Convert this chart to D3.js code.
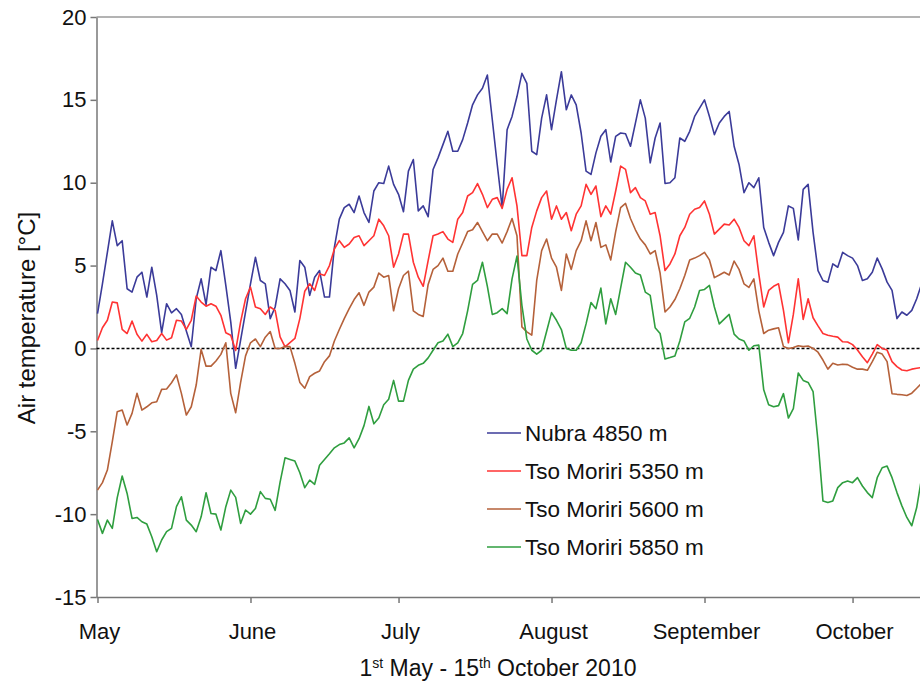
<!DOCTYPE html>
<html>
<head>
<meta charset="utf-8">
<script src="https://cdn.jsdelivr.net/npm/d3@7"></script>
<style>
  html, body { margin: 0; padding: 0; background: #fff; }
  svg { display: block; }
  text { font-family: "Liberation Sans", Arial, sans-serif; fill: #111; }
</style>
</head>
<body>
<svg id="chart" width="920" height="686"></svg>
<script>
// ---- data (daily air temperature, 1 May – 15 Oct 2010) ----
const startDate = "2010-05-01";
const endDate = "2010-10-15";

const nubra4850 = [
  2.1, 3.9, 5.8, 7.7, 6.2, 6.5, 3.6, 3.4, 4.3, 4.6,
  3.1, 4.9, 3.2, 0.95, 2.7, 2.15, 2.4, 2.05, 1.05, 0.1,
  3.0, 4.2, 2.65, 4.9, 4.7, 5.9, 3.8, 1.6, -1.2, 0.5,
  2.2, 3.9, 5.5, 4.1, 3.9, 1.8, 2.5, 4.2, 3.9, 3.5,
  2.2, 5.3, 4.9, 3.2, 4.3, 4.7, 3.1, 3.1, 6.1, 7.8,
  8.5, 8.7, 8.2, 9.2, 8.2, 7.6, 9.5, 10.0, 9.95, 11.0,
  9.9, 9.3, 8.25, 10.7, 11.4, 8.3, 8.6, 7.95, 10.8, 11.5,
  12.3, 13.1, 11.9, 11.9, 12.6, 13.6, 14.7, 15.3, 15.7, 16.5,
  13.8, 11.1, 8.5, 13.2, 14.0, 15.2, 16.6, 16.0, 11.9, 11.7,
  13.9, 15.3, 13.2, 15.0, 16.7, 14.4, 15.3, 14.7, 13.0, 10.7,
  10.5, 11.8, 12.8, 13.2, 11.25, 12.8, 13.0, 12.95, 12.2, 13.6,
  15.0, 13.9, 11.2, 12.7, 13.6, 9.95, 10.0, 10.3, 12.7, 12.5,
  13.1, 14.0, 14.5, 15.0, 14.0, 12.9, 13.6, 14.0, 14.3, 12.2,
  11.1, 9.4, 10.0, 9.7, 10.3, 7.3, 6.4, 5.6, 6.4, 7.0,
  8.6, 8.45, 6.55, 9.6, 9.9, 7.0, 4.7, 4.1, 4.0, 5.1,
  4.9, 5.8, 5.6, 5.45, 5.0, 4.1, 4.2, 4.6, 5.45, 4.8,
  4.0, 3.5, 1.8, 2.2, 2.0, 2.3, 3.0, 3.9
];

const tsoMoriri5350 = [
  0.48, 1.25, 1.7, 2.8, 2.75, 1.15, 0.9, 1.65, 0.85, 0.44,
  0.85, 0.4, 0.48, 0.9, 0.5, 0.64, 1.7, 1.65, 1.15, 1.7,
  3.16, 2.8, 2.55, 2.7, 2.55, 2.0, 0.95, 0.8, -0.12, 1.6,
  3.0, 3.7, 2.5, 2.4, 2.05, 2.5, 2.3, 0.7, 0.1, 0.35,
  0.6, 1.8, 3.45, 3.9, 3.5, 4.5, 4.4, 5.0, 6.0, 6.5,
  6.1, 6.3, 6.7, 6.8, 6.2, 6.5, 6.8, 7.8, 7.4, 6.8,
  4.9, 5.7, 6.9, 6.9, 5.2, 4.3, 3.75, 5.3, 6.8, 6.9,
  7.05, 6.6, 6.4, 7.8, 8.2, 9.2, 9.4, 9.95, 9.3, 8.5,
  9.0, 9.1, 8.45, 9.6, 10.3, 8.6, 5.6, 5.6, 7.3, 8.3,
  9.1, 9.5, 7.8, 8.6, 7.8, 8.2, 7.1, 8.1, 8.6, 9.9,
  9.3, 9.8, 7.95, 8.6, 8.1, 9.5, 11.0, 10.8, 9.4, 9.7,
  9.1, 8.9, 8.1, 8.2, 6.8, 4.7, 5.1, 5.7, 6.8, 7.3,
  8.1, 8.4, 8.5, 8.9, 8.1, 6.9, 7.2, 7.5, 7.45, 7.8,
  7.3, 6.5, 6.2, 6.8, 4.5, 2.5, 3.5, 3.75, 3.9, 2.3,
  0.34, 2.05, 4.2, 1.75, 3.0, 1.85, 1.36, 0.9, 0.8, 0.73,
  0.68, 0.4, 0.39, 0.23, -0.1, -0.5, -0.86, -0.34, 0.23, 0.0,
  -0.1, -0.8, -1.1, -1.3, -1.35, -1.25, -1.2, -1.15
];

const tsoMoriri5600 = [
  -8.55, -8.1, -7.34, -5.63, -3.82, -3.72, -4.62, -3.92, -2.71, -3.72,
  -3.52, -3.28, -3.22, -2.47, -2.45, -2.07, -1.6, -2.71, -4.02, -3.52,
  -2.21, -0.06, -1.07, -1.07, -0.76, -0.36, 0.34, -2.71, -3.88, -2.05,
  -0.45, 0.34, 0.57, 0.11, 0.68, 1.02, 0.0, 0.0, 0.11, 0.11,
  -0.9, -2.05, -2.4, -1.7, -1.5, -1.36, -0.8, -0.45, 0.45, 1.14,
  1.8, 2.4, 2.95, 3.36, 2.6, 3.4, 3.7, 4.55, 4.3, 4.4,
  2.27, 3.6, 4.4, 4.66, 2.27, 2.05, 1.93, 3.86, 4.77, 5.0,
  5.45, 4.66, 4.66, 5.7, 6.36, 7.05, 7.16, 7.6, 7.05, 6.5,
  6.9, 6.9, 6.36, 7.05, 7.84, 6.8, 1.3, 1.0, 0.8, 4.1,
  5.9, 6.6, 5.45, 4.9, 3.5, 5.7, 4.77, 5.9, 6.5, 7.7,
  6.5, 7.6, 6.1, 6.25, 5.34, 7.05, 8.5, 8.75, 7.84, 7.16,
  6.6, 6.25, 5.7, 5.9, 4.55, 2.2, 2.5, 2.95, 3.6, 4.4,
  5.34, 5.45, 5.6, 5.8, 5.34, 4.27, 4.43, 4.6, 4.43, 5.27,
  4.77, 3.9, 3.68, 4.2, 2.27, 0.9, 1.1, 1.18, 1.25, 0.11,
  0.0, 0.05, 0.16, 0.11, 0.15, 0.0, -0.23, -0.7, -1.25, -0.9,
  -1.0, -0.95, -0.98, -1.14, -1.25, -1.25, -1.32, -0.8, -0.23, -0.34,
  -0.8, -2.73, -2.77, -2.8, -2.84, -2.7, -2.4, -2.1
];

const tsoMoriri5850 = [
  -10.32, -11.16, -10.36, -10.86, -9.0, -7.7, -8.75, -10.26, -10.2, -10.46,
  -10.6, -11.36, -12.27, -11.56, -11.06, -10.86, -9.55, -8.95, -10.36, -10.66,
  -11.06, -10.16, -8.71, -9.96, -10.0, -10.96, -9.55, -8.55, -8.99, -10.56,
  -9.75, -10.0, -9.66, -8.64, -9.05, -9.1, -9.77, -8.07, -6.6, -6.7,
  -6.8, -7.5, -8.4, -7.95, -8.2, -7.05, -6.7, -6.36, -6.0, -5.8,
  -5.7, -5.4, -6.0, -5.45, -4.66, -3.5, -4.55, -4.2, -3.4, -3.07,
  -1.93, -3.18, -3.18, -1.93, -1.25, -1.02, -0.9, -0.57, -0.11, 0.34,
  0.45, 0.86, 0.11, 0.34, 0.9, 2.27, 3.86, 4.1, 5.2, 3.75,
  2.05, 2.16, 2.4, 2.1, 4.2, 5.57, 2.6, 0.57, -0.11, -0.34,
  -0.11, 1.02, 2.16, 1.7, 1.14, 0.0, -0.11, -0.11, 0.34, 1.48,
  2.77, 2.4, 3.64, 1.48, 3.0, 2.05, 3.64, 5.2, 4.9, 4.55,
  4.43, 3.4, 3.2, 1.25, 0.9, -0.64, -0.55, -0.45, 0.45, 1.6,
  1.82, 2.5, 3.5, 3.56, 3.8, 2.5, 1.48, 1.77, 2.05, 0.86,
  0.57, 0.45, -0.11, 0.16, 0.2, -2.5, -3.4, -3.52, -3.45, -2.73,
  -4.2, -3.64, -1.48, -1.93, -2.05, -2.6, -5.6, -9.2, -9.3, -9.2,
  -8.4, -8.1, -8.0, -8.1, -7.8, -8.3, -8.7, -9.0, -7.8, -7.2,
  -7.1, -7.8, -8.7, -9.5, -10.2, -10.7, -9.6, -7.8
];

const seriesNames = ["Nubra 4850 m", "Tso Moriri 5350 m", "Tso Moriri 5600 m", "Tso Moriri 5850 m"];
const seriesColors = ["#3b3b99", "#ff3333", "#b5613a", "#2f9e3f"];
const yTickValues = [-15, -10, -5, 0, 5, 10, 15, 20];
const yAxisTitle = "Air temperature [°C]";
const xTitleParts = [["1", false], ["st", true], [" May - 15", false], ["th", true], [" October 2010", false]];

// ---- layout ----
const svg = d3.select("#chart");
const plotLeft = 96.5, plotTop = 17, plotBottom = 597;
const parse = d3.utcParse("%Y-%m-%d");
const t0 = parse(startDate), t1 = parse(endDate);

const x = d3.scaleUtc().domain([t0, t1]).range([97.5, 97.5 + 167 * 4.935]);
const y = d3.scaleLinear().domain([-15, 20]).range([plotBottom, plotTop]);

const allSeries = [nubra4850, tsoMoriri5350, tsoMoriri5600, tsoMoriri5850];
const dates = nubra4850.map((_, i) => d3.utcDay.offset(t0, i));

// frame top line
svg.append("line")
  .attr("x1", plotLeft).attr("x2", 920)
  .attr("y1", plotTop).attr("y2", plotTop)
  .attr("stroke", "#9a9a9a").attr("stroke-width", 1.5);

// y axis
const yAxis = svg.append("g")
  .attr("transform", `translate(${plotLeft},0)`)
  .call(d3.axisLeft(y).tickValues(yTickValues).tickSize(6).tickPadding(4)
    .tickSizeOuter(0).tickFormat(d => String(d)));
yAxis.select(".domain").attr("stroke", "#777").attr("stroke-width", 1.5);
yAxis.selectAll(".tick line").attr("stroke", "#777").attr("stroke-width", 1.5);
yAxis.selectAll(".tick text").style("font-size", "22px").attr("fill", "#111");

// x axis
const monthTicks = d3.utcMonth.range(t0, d3.utcDay.offset(t1, 1));
const xAxis = svg.append("g")
  .attr("transform", `translate(0,${plotBottom})`)
  .call(d3.axisBottom(x).tickValues(monthTicks).tickSize(6).tickFormat("").tickSizeOuter(0));
xAxis.select(".domain").attr("stroke", "#777").attr("stroke-width", 1.5)
  .attr("d", `M${plotLeft},0.5H920`);
xAxis.selectAll(".tick line").attr("stroke", "#777").attr("stroke-width", 1.5);

svg.append("g").selectAll("text")
  .data(monthTicks)
  .join("text")
  .attr("x", d => x(d) + 2)
  .attr("y", 639)
  .attr("text-anchor", "middle")
  .style("font-size", "22px")
  .text(d3.utcFormat("%B"));

// zero line
svg.append("line")
  .attr("x1", plotLeft).attr("x2", 920)
  .attr("y1", y(0)).attr("y2", y(0))
  .attr("stroke", "#000").attr("stroke-width", 1.5)
  .attr("stroke-dasharray", "3,2");

// series
const line = d3.line()
  .x((d, i) => x(dates[i]))
  .y(d => y(d));

svg.append("g").selectAll("path")
  .data(allSeries)
  .join("path")
  .attr("d", d => line(d))
  .attr("fill", "none")
  .attr("stroke", (d, i) => seriesColors[i])
  .attr("stroke-width", 1.6)
  .attr("stroke-linejoin", "round");

// legend
const legend = svg.append("g");
const legendY = d3.scaleLinear().domain([0, 3]).range([433, 547]);
seriesNames.forEach((name, i) => {
  legend.append("line")
    .attr("x1", 487).attr("x2", 521)
    .attr("y1", legendY(i)).attr("y2", legendY(i))
    .attr("stroke", seriesColors[i]).attr("stroke-width", 1.5);
  legend.append("text")
    .attr("x", 525).attr("y", legendY(i))
    .attr("dy", "0.35em")
    .style("font-size", "22.5px")
    .text(name);
});

// y axis title
svg.append("text")
  .attr("transform", "translate(35,318) rotate(-90)")
  .attr("text-anchor", "middle")
  .style("font-size", "24px")
  .text(yAxisTitle);

// x axis title
const xt = svg.append("text")
  .attr("x", 498).attr("y", 676)
  .attr("text-anchor", "middle")
  .style("font-size", "23px");
xTitleParts.forEach(([s, sup]) => {
  xt.append("tspan")
    .attr("baseline-shift", sup ? "super" : null)
    .style("font-size", sup ? "14px" : null)
    .text(s);
});
</script>
</body>
</html>
